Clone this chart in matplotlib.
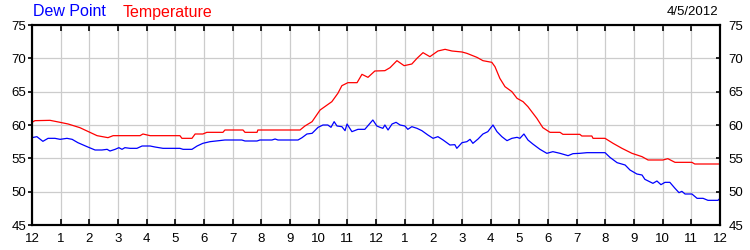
import matplotlib
matplotlib.use('Agg')
import matplotlib.pyplot as plt

plt.rcParams['font.family'] = ['Liberation Sans', 'DejaVu Sans']

# hours since midnight, temperature (F)
temp_h = [0.0, 0.1, 0.63, 0.98, 1.26, 1.67, 2.27, 2.65, 2.83, 3.77, 3.87, 4.12, 5.16, 5.23,
          5.58, 5.69, 5.96, 6.1, 6.66, 6.73, 7.36, 7.43, 7.85, 7.88, 9.35, 9.52, 9.77, 10.05,
          10.46, 10.67, 10.81, 11.02, 11.34, 11.51, 11.72, 11.96, 12.31, 12.49, 12.73, 12.98,
          13.25, 13.43, 13.64, 13.88, 14.16, 14.41, 14.65, 15.0, 15.17, 15.52, 15.73, 16.04,
          16.15, 16.32, 16.5, 16.74, 16.92, 17.13, 17.3, 17.61, 17.82, 18.07, 18.42, 18.52,
          19.11, 19.18, 19.53, 19.57, 19.99, 20.27, 20.58, 20.93, 21.28, 21.49, 22.01, 22.18,
          22.43, 23.02, 23.12, 24.0]
temp = [60.4, 60.65, 60.7, 60.4, 60.15, 59.6, 58.4, 58.1, 58.4, 58.4, 58.65, 58.4, 58.4, 58.0,
        58.0, 58.65, 58.65, 58.9, 58.9, 59.25, 59.25, 58.9, 58.9, 59.25, 59.25, 59.85, 60.5, 62.25,
        63.5, 64.75, 65.9, 66.35, 66.35, 67.6, 67.15, 68.1, 68.15, 68.6, 69.65, 68.9,
        69.15, 70.0, 70.85, 70.25, 71.1, 71.35, 71.1, 70.95, 70.75, 70.15, 69.65, 69.4,
        68.75, 67.0, 65.75, 65.0, 64.0, 63.5, 62.75, 61.0, 59.6, 58.9, 58.9, 58.6,
        58.6, 58.35, 58.35, 58.0, 58.0, 57.25, 56.5, 55.75, 55.25, 54.75, 54.75, 54.95,
        54.4, 54.4, 54.15, 54.15]

# hours since midnight, dew point (F)
dew_h = [0.0, 0.17, 0.38, 0.56, 0.8, 0.98, 1.22, 1.4, 1.6, 1.92, 2.2, 2.44, 2.62, 2.72, 2.9,
         3.03, 3.14, 3.24, 3.42, 3.66, 3.84, 4.12, 4.29, 4.57, 5.16, 5.27, 5.58, 5.76, 5.96,
         6.21, 6.73, 7.32, 7.43, 7.85, 7.95, 8.37, 8.48, 8.58, 9.28, 9.42, 9.59, 9.77, 9.98,
         10.15, 10.32, 10.43, 10.54, 10.64, 10.81, 10.92, 10.99, 11.16, 11.37, 11.61, 11.79,
         11.89, 12.03, 12.14, 12.24, 12.31, 12.42, 12.56, 12.7, 12.84, 13.01, 13.11, 13.25,
         13.43, 13.6, 13.81, 13.99, 14.16, 14.34, 14.58, 14.75, 14.82, 15.0, 15.17, 15.28,
         15.38, 15.56, 15.73, 15.9, 16.08, 16.22, 16.39, 16.57, 16.74, 16.92, 17.02, 17.16,
         17.3, 17.47, 17.72, 17.96, 18.17, 18.42, 18.7, 18.87, 19.11, 19.36, 19.99, 20.16,
         20.41, 20.69, 20.86, 21.1, 21.28, 21.38, 21.66, 21.8, 21.94, 22.08, 22.25, 22.43,
         22.57, 22.67, 22.78, 23.02, 23.2, 23.41, 23.58, 23.93, 24.0]
dew = [58.1, 58.25, 57.55, 58.0, 58.0, 57.85, 58.0, 57.85, 57.35, 56.75, 56.25, 56.25, 56.35,
       56.1, 56.35, 56.6, 56.35, 56.6, 56.5, 56.5, 56.85, 56.85, 56.7, 56.5, 56.5, 56.35,
       56.35, 56.85, 57.25, 57.5, 57.75, 57.75, 57.6, 57.6, 57.75, 57.75, 57.9, 57.75, 57.75,
       58.1, 58.65, 58.75, 59.65, 60.0, 60.0, 59.65, 60.5, 59.85, 59.75, 59.15, 60.15, 59.0,
       59.35, 59.35, 60.25, 60.75, 59.85, 59.65, 59.5, 60.0, 59.25, 60.15, 60.4, 60.0, 59.85,
       59.35, 59.75, 59.5, 59.15, 58.5, 58.0, 58.25, 57.75, 57.0, 57.05, 56.5, 57.35, 57.5,
       57.85, 57.25, 57.9, 58.65, 59.0, 60.0, 59.0, 58.25, 57.65, 58.0, 58.15, 58.0, 58.65,
       57.75, 57.15, 56.35, 55.75, 56.0, 55.75, 55.4, 55.7, 55.75, 55.85, 55.85, 55.15,
       54.35, 54.0, 53.25, 52.65, 52.5, 51.85, 51.25, 51.6, 51.05, 51.4, 51.4, 50.5,
       49.85, 50.05, 49.65, 49.65, 49.0, 49.0, 48.7, 48.7, 49.0]

hour_ticks = list(range(25))
hour_labels = ['12'] + [str(i) for i in range(1, 12)] + ['12'] + [str(i) for i in range(1, 12)] + ['12']
y_ticks = [45, 50, 55, 60, 65, 70, 75]
date_label = '4/5/2012'

fig = plt.figure(figsize=(7.5, 2.5), dpi=100)
ax = fig.add_axes([32 / 750, 25 / 250, 688 / 750, 200 / 250])

ax.plot(dew_h, dew, color='#0000ff', linewidth=0.9)
ax.plot(temp_h, temp, color='#ff0000', linewidth=0.9)

ax.set_xlim(0, 24)
ax.set_ylim(45, 75)
ax.set_xticks(hour_ticks)
ax.set_xticklabels(hour_labels, fontsize=9.5)
ax.set_yticks(y_ticks)
ax.set_yticklabels([str(v) for v in y_ticks], fontsize=9.5)
ax.grid(True, color='#cccccc', linewidth=0.9)
ax.set_axisbelow(True)

ax.tick_params(axis='x', direction='in', length=4, width=1.2, top=True, pad=6)
ax.tick_params(axis='y', direction='out', length=3, width=1.2, pad=1)

ax2 = ax.twinx()
ax2.set_ylim(45, 75)
ax2.set_yticks(y_ticks)
ax2.set_yticklabels([str(v) for v in y_ticks], fontsize=9.5)
ax2.tick_params(axis='y', direction='in', length=3, width=1.2, pad=6)

for a in (ax, ax2):
    for s in a.spines.values():
        s.set_linewidth(1.5)
        s.set_color('black')

fig.text(33 / 750, 1 - 12 / 250, 'Dew Point', color='#0000ff', fontsize=11.5, va='center', ha='left')
fig.text(123 / 750, 1 - 12 / 250, 'Temperature', color='#ff0000', fontsize=11.5, va='center', ha='left')
fig.text(718 / 750, 1 - 12 / 250, date_label, color='black', fontsize=9.5, va='center', ha='right')

fig.savefig('out.png', dpi=100)
